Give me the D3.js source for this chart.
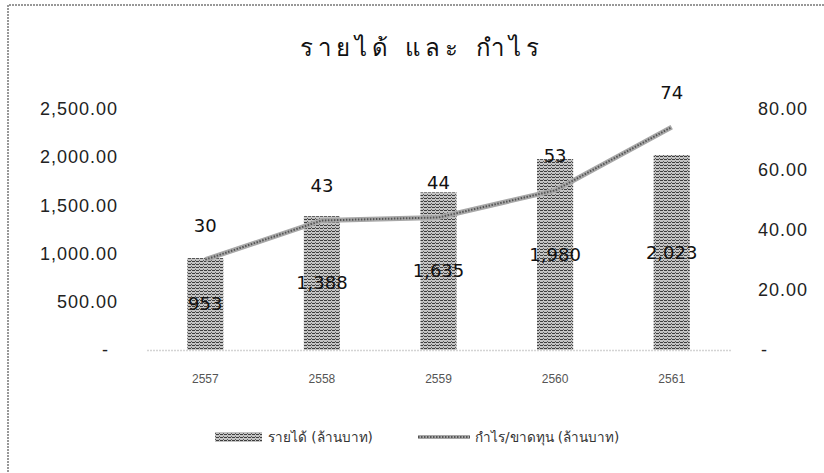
<!DOCTYPE html>
<html>
<head>
<meta charset="utf-8">
<script src="https://cdn.jsdelivr.net/npm/d3@7"></script>
<style>
  body { margin: 0; background: #fff; }
  svg { display: block; font-family: "DejaVu Sans", sans-serif; }
</style>
</head>
<body>
<svg id="chart" width="824" height="473"></svg>
<script>
(function() {
// data
var years = ["2557", "2558", "2559", "2560", "2561"];
var revenue = [953, 1388, 1635, 1980, 2023];
var profit = [30, 43, 44, 53, 74];
var leftTicks = [0, 500, 1000, 1500, 2000, 2500];
var rightTicks = [0, 20, 40, 60, 80];
var titleText = "รายได้ และ กำไร";
var legendNames = ["รายได้ (ล้านบาท)", "กำไร/ขาดทุน (ล้านบาท)"];

var plot = {left: 147, right: 730, top: 109, bottom: 350};

const svg = d3.select("#chart");

// hatch-like texture for bars
var defs = svg.append("defs");
var pat = defs.append("pattern")
  .attr("id", "barTex")
  .attr("width", 4).attr("height", 3)
  .attr("patternUnits", "userSpaceOnUse");
pat.append("rect").attr("width", 4).attr("height", 3).attr("fill", "#c4c4c4");
pat.append("rect").attr("width", 3).attr("height", 1).attr("fill", "#3e3e3e");
pat.append("rect").attr("x", 3).attr("y", 2).attr("width", 1).attr("height", 1).attr("fill", "#5a5a5a");

// dotted frame (only top and left visible in the scan)
svg.append("path")
  .attr("d", "M8,472 L8,5 L824,5")
  .attr("fill", "none")
  .attr("stroke", "#777")
  .attr("stroke-width", 1.5)
  .attr("stroke-dasharray", "2,1");

// title
svg.append("text")
  .attr("x", 422).attr("y", 56)
  .attr("text-anchor", "middle")
  .style("font-size", "24px")
  .style("letter-spacing", "5px")
  .style("fill", "#111")
  .text(titleText);

var x = d3.scaleBand()
  .domain(years)
  .range([plot.left, plot.right])
  .paddingInner(0.69)
  .paddingOuter(0.345);

var yL = d3.scaleLinear().domain([0, 2500]).range([plot.bottom, plot.top]);
var yR = d3.scaleLinear().domain([0, 80]).range([plot.bottom, plot.top]);

// left axis
var fmtL = d3.format(",.2f");
var axL = svg.append("g")
  .attr("transform", "translate(" + plot.left + ",0)")
  .call(d3.axisLeft(yL).tickValues(leftTicks).tickSize(0).tickPadding(29)
    .tickFormat(function(d) { return d === 0 ? "-" : fmtL(d); }));
axL.select(".domain").remove();
axL.selectAll("text")
  .style("font-size", "18px").style("fill", "#222")
  .style("letter-spacing", "1px")
  .attr("font-family", null)
  .attr("dx", function(d) { return d === 0 ? -9 : 0; });

// right axis
var fmtR = d3.format(".2f");
var axR = svg.append("g")
  .attr("transform", "translate(" + plot.right + ",0)")
  .call(d3.axisRight(yR).tickValues(rightTicks).tickSize(0).tickPadding(28)
    .tickFormat(function(d) { return d === 0 ? "-" : fmtR(d); }));
axR.select(".domain").remove();
axR.selectAll("text")
  .style("font-size", "18px").style("fill", "#222")
  .style("letter-spacing", "1px")
  .attr("font-family", null)
  .attr("dx", function(d) { return d === 0 ? 3 : 0; });

// bottom axis
var axB = svg.append("g")
  .attr("transform", "translate(0," + plot.bottom + ")")
  .call(d3.axisBottom(x).tickSize(0).tickPadding(24));
axB.select(".domain")
  .attr("stroke", "#aaa")
  .attr("stroke-width", 1.5)
  .attr("stroke-dasharray", "1,2");
axB.selectAll("text")
  .style("font-size", "12px").style("fill", "#555")
  .attr("font-family", null);

// bars
svg.append("g").selectAll("rect")
  .data(revenue)
  .join("rect")
    .attr("x", function(d, i) { return x(years[i]); })
    .attr("y", function(d) { return yL(d); })
    .attr("width", x.bandwidth())
    .attr("height", function(d) { return plot.bottom - yL(d); })
    .attr("fill", "url(#barTex)");

// profit line
var line = d3.line()
  .x(function(d, i) { return x(years[i]) + x.bandwidth() / 2; })
  .y(function(d) { return yR(d); });

svg.append("path")
  .datum(profit)
  .attr("d", line)
  .attr("fill", "none")
  .attr("stroke", "#a8a8a8")
  .attr("stroke-width", 5);
svg.append("path")
  .datum(profit)
  .attr("d", line)
  .attr("fill", "none")
  .attr("stroke", "#555")
  .attr("stroke-width", 2)
  .attr("stroke-dasharray", "1.5,1.5");

// bar labels (centre of bar)
svg.append("g").selectAll("text")
  .data(revenue)
  .join("text")
    .attr("x", function(d, i) { return x(years[i]) + x.bandwidth() / 2; })
    .attr("y", function(d) { return (yL(d) + plot.bottom) / 2; })
    .attr("dy", "0.35em")
    .attr("text-anchor", "middle")
    .style("font-size", "18px")
    .style("fill", "#111")
    .text(function(d) { return d3.format(",")(d); });

// line labels (above point)
svg.append("g").selectAll("text")
  .data(profit)
  .join("text")
    .attr("x", function(d, i) { return x(years[i]) + x.bandwidth() / 2; })
    .attr("y", function(d) { return yR(d) - 28; })
    .attr("text-anchor", "middle")
    .style("font-size", "18px")
    .style("fill", "#111")
    .text(function(d) { return d; });

// legend
var lg = svg.append("g").attr("transform", "translate(0,437)");
lg.append("rect")
  .attr("x", 215).attr("y", -5).attr("width", 47).attr("height", 10)
  .attr("fill", "url(#barTex)");
lg.append("text")
  .attr("x", 268).attr("y", 0).attr("dy", "0.35em")
  .style("font-size", "13.5px").style("fill", "#333")
  .text(legendNames[0]);
lg.append("line")
  .attr("x1", 418).attr("x2", 470).attr("y1", 0).attr("y2", 0)
  .attr("stroke", "#a8a8a8").attr("stroke-width", 4);
lg.append("line")
  .attr("x1", 418).attr("x2", 470).attr("y1", 0).attr("y2", 0)
  .attr("stroke", "#555").attr("stroke-width", 2)
  .attr("stroke-dasharray", "1.5,1.5");
lg.append("text")
  .attr("x", 475).attr("y", 0).attr("dy", "0.35em")
  .style("font-size", "13.5px").style("fill", "#333")
  .text(legendNames[1]);

})();
</script>
</body>
</html>
